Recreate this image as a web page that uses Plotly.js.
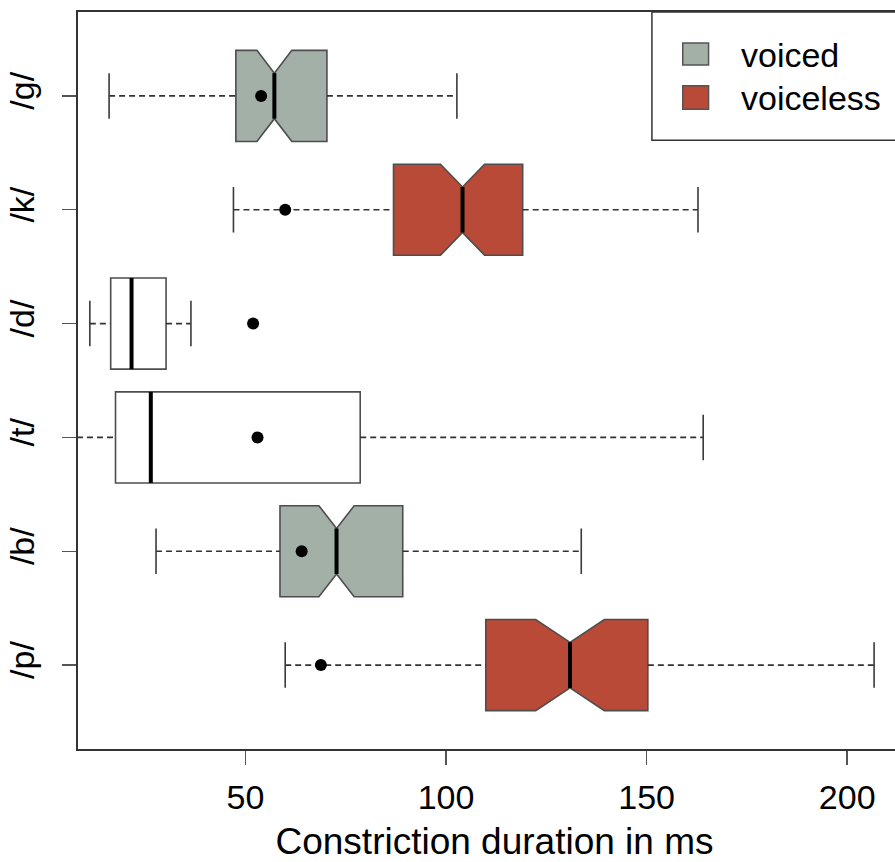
<!DOCTYPE html>
<html><head><meta charset="utf-8">
<script src="https://cdn.plot.ly/plotly-3.0.1.min.js"></script>
<style>html,body{margin:0;padding:0;overflow:hidden;background:#fff}#chart{width:940px;height:862px}</style>
</head><body><div id="chart"></div>
<script>
// ---- data ----
const categories   = ['/p/', '/b/', '/t/', '/d/', '/k/', '/g/'];
const voicing      = ['voiceless', 'voiced', 'none', 'none', 'voiceless', 'voiced'];
const whiskerLow   = [59.9, 27.7, 8.0, 11.2, 47.0, 16.0];
const q1           = [109.9, 58.6, 17.6, 16.4, 86.9, 47.6];
const median       = [130.9, 72.7, 26.4, 21.6, 104.1, 57.2];
const q3           = [150.3, 89.2, 78.6, 30.2, 119.1, 70.3];
const whiskerHigh  = [206.7, 133.7, 164.1, 36.4, 162.8, 102.7];
const notchSpan    = [8.55, 4.4, 0, 0, 5.5, 4.35];
const means        = [68.8, 64.0, 53.0, 51.9, 59.9, 53.9];
const legendLabels = ['voiced', 'voiceless'];
const xTickVals    = [50, 100, 150, 200];
const xTitle       = 'Constriction duration in ms';

// ---- styles ----
const FONT = '"Liberation Sans", Arial, Helvetica, sans-serif';
const fillFor = {voiced: '#a2b0a7', voiceless: '#b94a37', none: '#ffffff'};
const BOXW = 0.8;
const pos = categories.map((c, i) => i + 1);

const traces = [];
['voiced', 'voiceless', 'none'].forEach(g => {
  const idx = voicing.map((v, i) => v === g ? i : -1).filter(i => i >= 0);
  const pick = arr => idx.map(i => arr[i]);
  traces.push({
    type: 'box', orientation: 'h', name: g, showlegend: false,
    y: pick(pos), q1: pick(q1), median: pick(median), q3: pick(q3),
    lowerfence: pick(q1), upperfence: pick(q3),
    notched: g !== 'none', notchspan: g !== 'none' ? pick(notchSpan) : undefined,
    notchwidth: 0.25, width: BOXW, whiskerwidth: 0,
    fillcolor: fillFor[g], line: {color: '#4d4d4d', width: 1.6},
    hoverinfo: 'skip'
  });
});

// dashed whiskers, caps, medians
const wx = [], wy = [], cx = [], cy = [], mx = [], my = [];
categories.forEach((c, i) => {
  const p = pos[i];
  wx.push(whiskerLow[i], q1[i], null, q3[i], whiskerHigh[i], null);
  wy.push(p, p, null, p, p, null);
  cx.push(whiskerLow[i], whiskerLow[i], null, whiskerHigh[i], whiskerHigh[i], null);
  cy.push(p - BOXW / 4, p + BOXW / 4, null, p - BOXW / 4, p + BOXW / 4, null);
  const h = voicing[i] === 'none' ? BOXW / 2 : BOXW / 4;
  mx.push(median[i], median[i], null);
  my.push(p - h, p + h, null);
});
traces.push({type: 'scatter', mode: 'lines', x: wx, y: wy, showlegend: false, hoverinfo: 'skip',
  line: {color: '#333333', width: 1.7, dash: '6px,4px'}});
traces.push({type: 'scatter', mode: 'lines', x: cx, y: cy, showlegend: false, hoverinfo: 'skip',
  line: {color: '#3a3a3a', width: 1.6}});
traces.push({type: 'scatter', mode: 'lines', x: mx, y: my, showlegend: false, hoverinfo: 'skip',
  line: {color: '#000000', width: 4}});
traces.push({type: 'scatter', mode: 'markers', x: means, y: pos, showlegend: false, hoverinfo: 'skip',
  marker: {color: '#000000', size: 12, line: {width: 0}}});

// legend (manual, R-style box)
const shapes = [
  {type: 'rect', xref: 'paper', yref: 'paper', x0: 0.689, x1: 1.0, y0: 0.826, y1: 1.0,
   line: {color: '#333333', width: 1.5}, fillcolor: 'rgba(255,255,255,1)', layer: 'above'}
];
const annotations = [];
const swY = [[0.928, 0.958], [0.868, 0.900]];
const txY = [0.942, 0.883];
legendLabels.forEach((lab, k) => {
  shapes.push({type: 'rect', xref: 'paper', yref: 'paper', x0: 0.726, x1: 0.757,
    y0: swY[k][0], y1: swY[k][1], fillcolor: fillFor[lab], line: {color: '#555555', width: 1.5}, layer: 'above'});
  annotations.push({xref: 'paper', yref: 'paper', x: 0.794, y: txY[k], xanchor: 'left', yanchor: 'middle',
    text: lab, showarrow: false, font: {family: FONT, size: 34, color: '#000'}});
});

const layout = {
  width: 940, height: 862,
  margin: {l: 78, r: 29, t: 12, b: 113},
  paper_bgcolor: '#ffffff', plot_bgcolor: '#ffffff',
  font: {family: FONT, color: '#000000', size: 34},
  showlegend: false,
  xaxis: {
    range: [8.25, 215.9], tickmode: 'array', tickvals: xTickVals, ticktext: xTickVals.map(String),
    showgrid: false, zeroline: false, showline: true, mirror: true, linecolor: '#333333', linewidth: 2,
    ticks: 'outside', ticklen: 14, tickwidth: 1.5, tickcolor: '#555555', ticklabelstandoff: 3,
    tickfont: {family: FONT, size: 34, color: '#000'},
    title: {text: xTitle, font: {family: FONT, size: 37, color: '#000'}, standoff: 22}
  },
  yaxis: {
    range: [0.263, 6.737], tickmode: 'array', tickvals: pos, ticktext: categories, tickangle: -90,
    showgrid: false, zeroline: false, showline: true, mirror: true, linecolor: '#333333', linewidth: 2,
    ticks: 'outside', ticklen: 14, tickwidth: 1.5, tickcolor: '#555555', ticklabelstandoff: 14,
    tickfont: {family: FONT, size: 34, color: '#000'}
  },
  shapes: shapes, annotations: annotations
};

Plotly.newPlot('chart', traces, layout, {staticPlot: true, displayModeBar: false});
</script>
</body></html>
